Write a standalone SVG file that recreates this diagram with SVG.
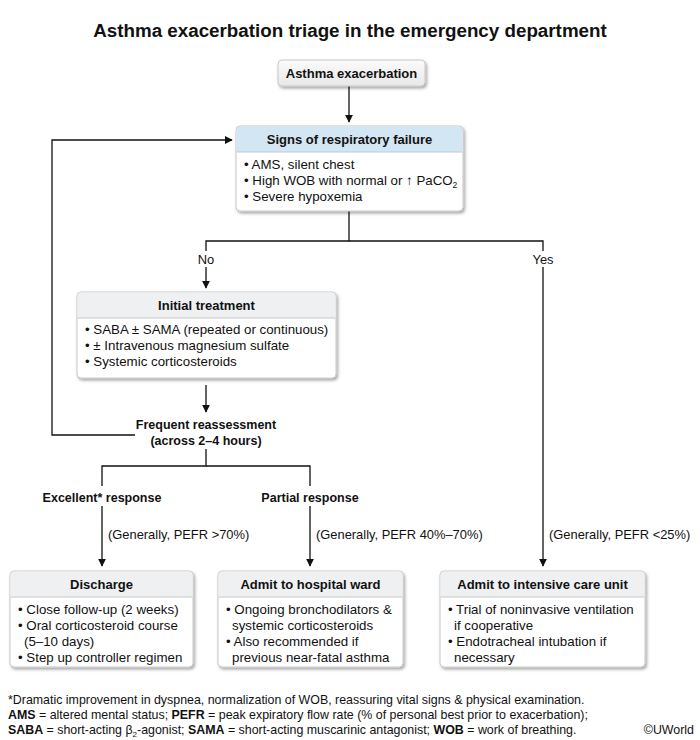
<svg xmlns="http://www.w3.org/2000/svg" width="700" height="740" viewBox="0 0 700 740">
<defs>
<filter id="sh" x="-10%" y="-10%" width="130%" height="140%">
<feDropShadow dx="1.5" dy="2" stdDeviation="1.5" flood-color="#000" flood-opacity="0.35"/>
</filter>
<linearGradient id="gstart" x1="0" y1="0" x2="0" y2="1">
<stop offset="0" stop-color="#fbfbfb"/>
<stop offset="1" stop-color="#e8e8e8"/>
</linearGradient>
<marker id="ah" viewBox="0 0 10 10" refX="9" refY="5" markerWidth="8" markerHeight="8" markerUnits="userSpaceOnUse" orient="auto">
<path d="M0,0 L10,5 L0,10 z" fill="#111"/>
</marker>
<style>
text{font-family:"Liberation Sans",Arial,sans-serif;fill:#111}
.t{font-size:18.8px;font-weight:bold}
.h{font-size:13px;font-weight:bold}
.b{font-size:13.3px}
.l{font-size:12.9px}
.lb{font-size:12.5px;font-weight:bold}
.f{font-size:12.4px}
.box{fill:#fff;stroke:#c8c8c8;stroke-width:1}
.hb{fill:#d3e6f4}
.hg{fill:#eef0f2}
.sep{stroke:#c8c8c8;stroke-width:1}
.c{fill:none;stroke:#111;stroke-width:1.3}
</style>
</defs>
<rect width="700" height="740" fill="#fff"/>
<text class="t" x="350" y="37" text-anchor="middle">Asthma exacerbation triage in the emergency department</text>

<g id="connectors">
<path class="c" d="M349,86 V122" marker-end="url(#ah)"/>
<path class="c" d="M349,211 V241 H206 V251"/>
<path class="c" d="M206,267 V288" marker-end="url(#ah)"/>
<path class="c" d="M349,241 H543 V251"/>
<path class="c" d="M543,267 V566" marker-end="url(#ah)"/>
<path class="c" d="M135,435 H52 V140 H232" marker-end="url(#ah)"/>
<path class="c" d="M206,385 V412" marker-end="url(#ah)"/>
<path class="c" d="M206,449 V466 H102 V486"/>
<path class="c" d="M206,466 H310 V486"/>
<path class="c" d="M102,506 V566" marker-end="url(#ah)"/>
<path class="c" d="M310,506 V566" marker-end="url(#ah)"/>
<text class="l" x="206" y="264" text-anchor="middle">No</text>
<text class="l" x="543" y="264" text-anchor="middle">Yes</text>
<text class="lb" x="206" y="429" text-anchor="middle">Frequent reassessment</text>
<text class="lb" x="206" y="445" text-anchor="middle">(across 2–4 hours)</text>
<text class="lb" x="102" y="502" text-anchor="middle">Excellent* response</text>
<text class="lb" x="310" y="502" text-anchor="middle">Partial response</text>
<text class="l" x="108" y="539">(Generally, PEFR &gt;70%)</text>
<text class="l" x="316" y="539">(Generally, PEFR 40%–70%)</text>
<text class="l" x="549" y="539">(Generally, PEFR &lt;25%)</text>
</g>

<g id="start">
<rect x="278" y="60" width="147" height="26" rx="4" fill="url(#gstart)" stroke="#c8c8c8" filter="url(#sh)"/>
<text class="h" x="351.5" y="78" text-anchor="middle">Asthma exacerbation</text>
</g>

<g id="resp-failure">
<rect class="box" x="236" y="126" width="227" height="85" rx="4" filter="url(#sh)"/>
<path class="hb" d="M240,126.5 H459 A3.5,3.5 0 0 1 462.5,130 V152 H236.5 V130 A3.5,3.5 0 0 1 240,126.5 z"/>
<line class="sep" x1="236.5" y1="152" x2="462.5" y2="152"/>
<text class="h" x="349.5" y="144" text-anchor="middle">Signs of respiratory failure</text>
<text class="b" x="244" y="169">• AMS, silent chest</text>
<text class="b" x="244" y="185">• High WOB with normal or ↑ PaCO<tspan font-size="8.5" dy="3">2</tspan></text>
<text class="b" x="244" y="201">• Severe hypoxemia</text>
</g>

<g id="initial-treatment">
<rect class="box" x="77" y="292" width="259" height="86" rx="4" filter="url(#sh)"/>
<path class="hg" d="M81,292.5 H332 A3.5,3.5 0 0 1 335.5,296 V318 H77.5 V296 A3.5,3.5 0 0 1 81,292.5 z"/>
<line class="sep" x1="77.5" y1="318" x2="335.5" y2="318"/>
<text class="h" x="206.5" y="310" text-anchor="middle">Initial treatment</text>
<text class="b" x="85" y="334">• SABA ± SAMA (repeated or continuous)</text>
<text class="b" x="85" y="350">• ± Intravenous magnesium sulfate</text>
<text class="b" x="85" y="366">• Systemic corticosteroids</text>
</g>

<g id="discharge">
<rect class="box" x="10" y="571" width="183" height="96" rx="4" filter="url(#sh)"/>
<path class="hg" d="M14,571.5 H189 A3.5,3.5 0 0 1 192.5,575 V597 H10.5 V575 A3.5,3.5 0 0 1 14,571.5 z"/>
<line class="sep" x1="10.5" y1="597" x2="192.5" y2="597"/>
<text class="h" x="101.5" y="589" text-anchor="middle">Discharge</text>
<text class="b" x="18" y="614">• Close follow-up (2 weeks)</text>
<text class="b" x="18" y="630">• Oral corticosteroid course</text>
<text class="b" x="24" y="646">(5–10 days)</text>
<text class="b" x="18" y="662">• Step up controller regimen</text>
</g>

<g id="ward">
<rect class="box" x="218" y="571" width="185" height="96" rx="4" filter="url(#sh)"/>
<path class="hg" d="M222,571.5 H399 A3.5,3.5 0 0 1 402.5,575 V597 H218.5 V575 A3.5,3.5 0 0 1 222,571.5 z"/>
<line class="sep" x1="218.5" y1="597" x2="402.5" y2="597"/>
<text class="h" x="310.5" y="589" text-anchor="middle">Admit to hospital ward</text>
<text class="b" x="226" y="614">• Ongoing bronchodilators &amp;</text>
<text class="b" x="232" y="630">systemic corticosteroids</text>
<text class="b" x="226" y="646">• Also recommended if</text>
<text class="b" x="232" y="662">previous near-fatal asthma</text>
</g>

<g id="icu">
<rect class="box" x="440" y="571" width="205" height="96" rx="4" filter="url(#sh)"/>
<path class="hg" d="M444,571.5 H641 A3.5,3.5 0 0 1 644.5,575 V597 H440.5 V575 A3.5,3.5 0 0 1 444,571.5 z"/>
<line class="sep" x1="440.5" y1="597" x2="644.5" y2="597"/>
<text class="h" x="542.5" y="589" text-anchor="middle">Admit to intensive care unit</text>
<text class="b" x="448" y="614">• Trial of noninvasive ventilation</text>
<text class="b" x="454" y="630">if cooperative</text>
<text class="b" x="448" y="646">• Endotracheal intubation if</text>
<text class="b" x="454" y="662">necessary</text>
</g>

<g id="footnotes">
<text class="f" x="8" y="704">*Dramatic improvement in dyspnea, normalization of WOB, reassuring vital signs &amp; physical examination.</text>
<text class="f" x="8" y="719"><tspan font-weight="bold">AMS</tspan> = altered mental status; <tspan font-weight="bold">PEFR</tspan> = peak expiratory flow rate (% of personal best prior to exacerbation);</text>
<text class="f" x="8" y="734"><tspan font-weight="bold">SABA</tspan> = short-acting β<tspan font-size="8" dy="2.5">2</tspan><tspan dy="-2.5">-agonist; </tspan><tspan font-weight="bold">SAMA</tspan> = short-acting muscarinic antagonist; <tspan font-weight="bold">WOB</tspan> = work of breathing.</text>
<text class="f" x="694" y="734" text-anchor="end" font-size="10">©UWorld</text>
</g>
</svg>
